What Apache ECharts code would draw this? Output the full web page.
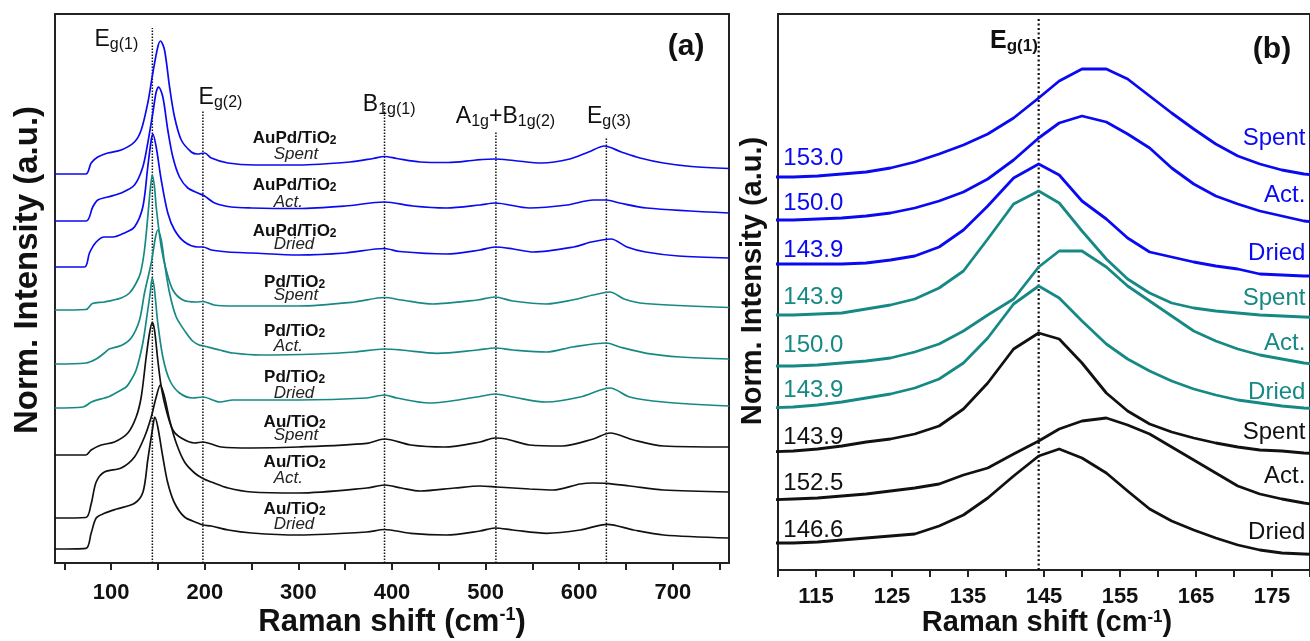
<!DOCTYPE html>
<html>
<head>
<meta charset="utf-8">
<title>Raman spectra of Au, Pd and AuPd on TiO2</title>
<script src="https://cdn.jsdelivr.net/npm/echarts@6.0.0/dist/echarts.min.js"></script>
<style>
  html, body { margin: 0; padding: 0; background: #ffffff; }
  #chart { width: 1310px; height: 641px; }
</style>
</head>
<body>
<div id="chart"></div>
<script>
// ---------------- Data ----------------
// Panel (a): full spectra, [Raman shift (cm-1), normalised intensity + stacking offset]
const auPdSpentA = [[40,38.9],[73,38.9],[78.6,40.0],[85.7,40.6],[96.4,41.0],[110.7,41.3],[124.9,42.1],[132.1,43.3],[139.1,46.0],[144.5,49.0],[149.8,51.6],[152.7,52.2],[157,51.3],[162.4,47.6],[167.7,44.6],[174.9,42.3],[185.6,41.1],[192,40.9],[199.8,41.0],[207,40.5],[224.7,40.0],[253.3,39.8],[300,39.8],[355,40.1],[380,40.45],[392,40.65],[405,40.45],[430,40.1],[460,40.05],[490,40.3],[510,40.4],[530,40.25],[560,40.0],[590,40.4],[610,41.1],[627,41.7],[645,41.1],[665,40.5],[690,40.0],[720,39.65],[760,39.45]];
const auPdActA = [[40,34.2],[73.3,34.2],[80.3,35.6],[85.7,36.3],[96.4,36.6],[110.7,37.0],[124.9,37.8],[133.8,39.6],[139.1,42.0],[144.5,45.0],[148.1,47.1],[150.6,47.6],[155.2,46.6],[160.5,43.3],[165.9,40.6],[173,38.6],[181.9,37.5],[192.6,37.0],[199.8,36.7],[210.5,36.0],[228.3,35.6],[250,35.5],[300,35.45],[350,35.7],[392,36.1],[422,35.7],[458,35.5],[494,35.8],[510,36.0],[547,35.5],[587,35.8],[615,36.3],[629,36.3],[643,36.0],[672,35.5],[760,35.0]];
const auPdDriedA = [[40,29.6],[71.5,29.6],[76.8,31.0],[84,32.1],[92.8,32.6],[101.7,32.6],[114.2,33.0],[124.9,33.6],[133.8,35.6],[139.1,39.6],[142.8,42.3],[144.5,42.9],[148.1,41.6],[153.5,38.3],[160.5,35.0],[167.7,33.3],[178.4,32.1],[192.6,31.6],[198,31.6],[207,31.3],[224.7,31.1],[250,31.0],[300,30.8],[350,31.0],[392,31.45],[408,31.15],[458,30.9],[494,31.3],[510,31.6],[529.5,31.4],[551,31.1],[594,31.6],[613,32.1],[634,32.4],[651,31.6],[671,31.1],[706,30.7],[760,30.5]];
const pdSpentA = [[40,25.3],[73,25.35],[80,25.95],[92.8,26.1],[110.7,26.5],[119.6,27.0],[126.7,28.0],[131.3,29.0],[135.6,31.3],[139.1,34.6],[141.7,37.3],[143.9,38.8],[146.3,37.6],[148.1,35.6],[153.5,31.6],[158.8,29.3],[165.9,27.3],[176.6,26.3],[190.9,26.1],[198,26.15],[210,25.8],[230,25.7],[300,25.7],[360,26.1],[392,26.55],[410,26.3],[444,25.9],[491,26.3],[510,26.6],[529,26.2],[565,25.9],[593,26.3],[615,26.8],[633,27.1],[648,26.4],[670,25.95],[760,25.55]];
const pdActA = [[40,19.9],[73,20.0],[84,20.4],[92.8,21.0],[98,21.4],[110.7,21.75],[121.4,22.5],[130.3,24.3],[135.6,27.0],[142.8,30.0],[147.4,32.6],[149.8,33.3],[153.5,32.3],[157,30.0],[162.4,27.0],[169.5,24.6],[180.2,23.0],[187,22.2],[194,21.8],[199,21.7],[215.8,21.3],[230,21.0],[260,20.8],[320,20.9],[360,21.1],[392,21.4],[410,21.3],[448,20.97],[491,21.3],[510,21.5],[529,21.3],[565,21.1],[593,21.6],[629,22.0],[643,21.6],[672,20.97],[708,20.6],[760,20.4]];
const pdDriedA = [[40,15.5],[70,15.6],[79,16.1],[92.8,16.5],[98,16.65],[110.7,17.3],[116,17.6],[120,18.1],[126.7,19.3],[133.8,22.0],[139.1,25.3],[141.7,27.0],[143.9,28.5],[146.3,27.3],[149.8,24.0],[155.2,20.6],[162.4,18.3],[173,17.0],[187.3,16.5],[198,16.6],[216,16.1],[230,16.3],[300,16.3],[373,16.5],[392,16.8],[405,16.5],[440,16.0],[491,16.6],[510,16.9],[529,16.6],[565,16.1],[601,16.6],[633,17.5],[654,16.6],[690,16.1],[760,15.7]];
const auSpentA = [[40,10.8],[73,10.8],[78.6,11.3],[89.3,11.8],[103.5,12.1],[117.8,13.0],[126.7,14.6],[132.1,16.6],[137.4,20.6],[141,23.0],[143.9,24.05],[146.3,23.3],[149.8,20.3],[153.5,17.6],[158.8,15.3],[165.9,13.3],[174.9,12.5],[189.1,12.0],[198,12.1],[217.6,11.6],[250,11.5],[300,11.6],[373,11.97],[392,12.4],[420,11.8],[456,11.6],[494,12.1],[510,12.5],[522,12.4],[547,11.8],[582,11.7],[615,12.4],[633,13.0],[658,12.3],[690,11.7],[760,11.6]];
const auActA = [[40,4.5],[73,4.55],[78.6,5.9],[84,8.1],[92.8,9.1],[110.7,9.5],[124.9,10.6],[135.6,12.6],[142.8,14.6],[148.1,16.6],[152.5,17.8],[157,16.6],[162.4,14.3],[169.5,12.0],[178.4,10.1],[189.1,9.0],[198,8.45],[207,8.1],[225,7.5],[250,7.1],[300,7.0],[373,7.5],[392,7.8],[410,7.5],[430,7.2],[467,7.5],[494,7.7],[512,7.6],[547,7.4],[572,7.3],[601,7.9],[615,8.0],[629,7.97],[654,7.7],[690,7.3],[760,7.1]];
const auDriedA = [[40,1.4],[73,1.47],[78.6,2.97],[84,4.5],[92.8,4.97],[106,5.4],[125,5.97],[134,7.1],[139.1,10.3],[144.5,13.6],[146.6,14.6],[149.8,13.6],[155.2,10.6],[160.5,8.0],[167.7,6.0],[178.4,4.6],[192.6,4.0],[198,3.8],[207,3.7],[225,3.3],[250,3.0],[300,2.8],[373,3.1],[392,3.35],[420,2.97],[458,2.8],[494,3.2],[510,3.5],[529,3.3],[565,2.97],[601,3.3],[630,3.87],[658,3.3],[690,2.8],[760,2.5]];

// Anatase band positions (cm-1), their labels and how high each guide line reaches
const bandShifts = [144, 198, 392, 511, 629];
const bandLabels = ['{m|E}{s|g(1)}', '{m|E}{s|g(2)}', '{m|B}{s|1g(1)}', '{m|A}{s|1g}{m|+B}{s|1g(2)}', '{m|E}{s|g(3)}'];
const bandLineTops = [53.5, 45.3, 46.0, 43.1, 42.6];

// Sample naming
const catalysts = ['AuPd', 'AuPd', 'AuPd', 'Pd', 'Pd', 'Pd', 'Au', 'Au', 'Au'];
const treatments = ['Spent', 'Act.', 'Dried', 'Spent', 'Act.', 'Dried', 'Spent', 'Act.', 'Dried'];

// Panel (b): Eg(1) region, intensities sampled on a shared Raman shift grid
const shiftB = [108.8,112.0,115.2,118.4,121.6,124.8,128.0,131.2,134.4,137.6,141.0,144.3,147.0,150.0,153.2,156.0,158.9,161.8,164.7,167.6,170.5,173.4,176.3,179.2,182.1];
const auPdSpentB = [39.3,39.3,39.4,39.6,39.8,40.2,40.8,41.6,42.5,43.6,45.2,47.2,48.9,50.1,50.1,49.1,47.4,45.7,44.1,42.6,41.4,40.6,40.0,39.6,39.4];
const auPdActB   = [35.0,35.0,35.1,35.2,35.4,35.7,36.2,36.9,37.8,39.1,41.0,43.2,44.7,45.4,44.8,43.6,42.2,40.2,38.6,37.4,36.6,35.9,35.4,34.9,34.7];
const auPdDriedB = [30.6,30.6,30.6,30.6,30.7,31.0,31.4,32.3,34.0,36.4,39.2,40.6,39.5,36.9,35.1,33.2,31.8,31.3,30.8,30.4,30.1,29.6,29.5,29.4,29.4];
const pdSpentB   = [25.5,25.5,25.6,25.7,26.1,26.5,27.1,28.2,29.9,33.1,36.6,37.9,36.7,33.9,31.1,29.1,27.7,26.7,26.2,25.9,25.7,25.5,25.4,25.3,25.2];
const pdActB     = [20.4,20.4,20.5,20.7,20.9,21.2,21.8,22.6,23.9,25.5,27.1,30.3,31.9,31.9,30.3,28.4,26.9,25.4,23.9,22.9,22.1,21.5,21.1,20.7,20.5];
const pdDriedB   = [16.2,16.3,16.5,16.8,17.2,17.6,18.2,19.1,20.7,23.2,26.6,28.4,27.2,24.9,22.6,21.1,19.9,18.9,18.1,17.5,17.0,16.7,16.4,16.2,16.1];
const auSpentB   = [11.8,11.9,12.1,12.4,12.8,13.1,13.6,14.4,16.1,18.7,22.1,23.7,23.1,20.7,17.7,15.9,14.6,13.8,13.2,12.7,12.3,12.0,11.9,11.7,11.6];
const auActB     = [7.0,7.1,7.2,7.4,7.6,7.9,8.2,8.6,9.5,10.2,11.6,12.9,14.1,14.9,15.2,14.5,13.6,12.3,11.0,9.7,8.4,7.6,7.1,6.7,6.4];
const auDriedB   = [2.7,2.7,2.8,3.0,3.2,3.4,3.6,4.4,5.5,7.2,9.4,11.4,12.1,11.2,9.7,7.9,6.1,4.9,4.0,3.2,2.5,2.0,1.7,1.6,1.5];
const peakShiftLabels = ['153.0', '150.0', '143.9', '143.9', '150.0', '143.9', '143.9', '152.5', '146.6'];
const eg1Shift = 144.3;

// Axis ticks (cm-1)
const ticksA = [50, 100, 150, 200, 250, 300, 350, 400, 450, 500, 550, 600, 650, 700, 750];
const tickLabelsA = [100, 200, 300, 400, 500, 600, 700];
const ticksB = [110, 115, 120, 125, 130, 135, 140, 145, 150, 155, 160, 165, 170, 175, 180];
const tickLabelsB = [115, 125, 135, 145, 155, 165, 175];

// ---------------- Styling ----------------
const FONT = '"Liberation Sans", Arial, Helvetica, sans-serif';
const BLUE = '#0a0af2';
const TEAL = '#178985';
const BLACK = '#111111';
const groupColor = { AuPd: BLUE, Pd: TEAL, Au: BLACK };

const spectraA = [auPdSpentA, auPdActA, auPdDriedA, pdSpentA, pdActA, pdDriedA, auSpentA, auActA, auDriedA];
const spectraB = [auPdSpentB, auPdActB, auPdDriedB, pdSpentB, pdActB, pdDriedB, auSpentB, auActB, auDriedB];

const chart = echarts.init(document.getElementById('chart'), null, { renderer: 'canvas' });

function xAxisCfg(grid, min, max, ticks, labels, margin) {
  return {
    gridIndex: grid, type: 'value', min: min, max: max,
    axisLine: { show: false },
    axisTick: { show: true, customValues: ticks, length: 7, inside: false,
                lineStyle: { color: '#222', width: 2 } },
    axisLabel: { show: true, customValues: labels, margin: margin, fontSize: 22,
                 fontWeight: 'bold', color: '#111', fontFamily: FONT },
    splitLine: { show: false }
  };
}
function yAxisCfg(grid, max) {
  return {
    gridIndex: grid, type: 'value', min: 0, max: max,
    axisLine: { show: false }, axisTick: { show: false },
    axisLabel: { show: false }, splitLine: { show: false }
  };
}

const series = [];
// Panel (a) spectra
spectraA.forEach((d, i) => {
  series.push({
    name: catalysts[i] + '/TiO2 ' + treatments[i],
    type: 'line', xAxisIndex: 0, yAxisIndex: 0, data: d,
    showSymbol: false, smooth: 0.3, silent: true,
    lineStyle: { color: groupColor[catalysts[i]], width: 1.7 },
    z: 3
  });
});
// Panel (a) band guide lines
bandShifts.forEach((s, i) => {
  series.push({
    type: 'line', xAxisIndex: 0, yAxisIndex: 0, silent: true,
    data: [[s, 0], [s, bandLineTops[i]]], showSymbol: false,
    lineStyle: { color: '#111', width: 1.5, type: [1.5, 1.5] }, z: 2
  });
});
// Panel (b) spectra
spectraB.forEach((d, i) => {
  series.push({
    name: catalysts[i] + '/TiO2 ' + treatments[i] + ' (Eg(1))',
    type: 'line', xAxisIndex: 1, yAxisIndex: 1, silent: true,
    data: shiftB.map((x, k) => [x, d[k]]),
    showSymbol: false, smooth: false,
    lineStyle: { color: groupColor[catalysts[i]], width: 2.8, join: 'round' },
    z: 3
  });
});
series.push({
  type: 'line', xAxisIndex: 1, yAxisIndex: 1, silent: true,
  data: [[eg1Shift, 0], [eg1Shift, 55.1]], showSymbol: false,
  lineStyle: { color: '#111', width: 2.2, type: [2, 2.5] }, z: 2
});

const option = {
  animation: false,
  backgroundColor: '#ffffff',
  grid: [
    { left: 55, top: 14, width: 674, height: 549, show: true, borderColor: '#222', borderWidth: 2, backgroundColor: 'rgba(0,0,0,0)' },
    { left: 778, top: 14, width: 539, height: 556, show: true, borderColor: '#222', borderWidth: 2, backgroundColor: 'rgba(0,0,0,0)' }
  ],
  xAxis: [
    xAxisCfg(0, 40, 760, ticksA, tickLabelsA, 19),
    xAxisCfg(1, 110, 180, ticksB, tickLabelsB, 16)
  ],
  yAxis: [yAxisCfg(0, 54.9), yAxisCfg(1, 55.6)],
  series: series
};
chart.setOption(option);

// ---------------- Annotations ----------------
const toPx = (g, x, y) => chart.convertToPixel({ xAxisIndex: g, yAxisIndex: g }, [x, y]);
const graphics = [];

function richText(g, x, yCenter, text, rich, align, mainSize) {
  const p = toPx(g, x, yCenter);
  graphics.push({ type: 'text', silent: true, x: p[0], y: p[1] - mainSize / 2,
    style: { text: text, rich: rich, align: align, verticalAlign: 'top', fontFamily: FONT } });
}
function plainText(g, x, yCenter, text, align, font, color) {
  const p = toPx(g, x, yCenter);
  graphics.push({ type: 'text', silent: true, x: p[0], y: p[1],
    style: { text: text, align: align, verticalAlign: 'middle', font: font, fill: color } });
}

// Band labels, panel (a)
const bandRich = {
  m: { fontSize: 23, lineHeight: 23, verticalAlign: 'top', fill: '#111', fontFamily: FONT },
  s: { fontSize: 16, lineHeight: 33, fill: '#111', fontFamily: FONT }
};
const bandLabelAnchors = [[82.1, 52.3], [193.4, 46.5], [368.8, 45.8], [468.2, 44.6], [608.3, 44.6]];
bandLabels.forEach((t, i) => richText(0, bandLabelAnchors[i][0], bandLabelAnchors[i][1], t, bandRich, 'left', 23));
plainText(0, 714.2, 51.6, '(a)', 'center', 'bold 30px ' + FONT, '#111');

// Sample labels, panel (a)
const formulaRich = {
  f: { fontSize: 17, fontWeight: 'bold', lineHeight: 17, verticalAlign: 'top', fill: '#111', fontFamily: FONT },
  n: { fontSize: 12, fontWeight: 'bold', lineHeight: 22, fill: '#111', fontFamily: FONT }
};
const formulaRowsA = [42.5, 37.8, 33.2, 28.1, 23.2, 18.6, 14.1, 10.1, 5.4];
const treatmentRowsA = [40.9, 36.1, 31.9, 26.8, 21.7, 17.0, 12.8, 8.5, 3.9];
catalysts.forEach((c, i) => {
  richText(0, 296, formulaRowsA[i], '{f|' + c + '/TiO}{n|2}', formulaRich, 'center', 17);
  plainText(0, 273.6, treatmentRowsA[i], treatments[i], 'left', 'italic 17px ' + FONT, '#222');
});

// Panel (b) labels
const egRichB = {
  m: { fontSize: 25, fontWeight: 'bold', lineHeight: 25, verticalAlign: 'top', fill: '#111', fontFamily: FONT },
  s: { fontSize: 17, fontWeight: 'bold', lineHeight: 35, fill: '#111', fontFamily: FONT }
};
richText(1, 137.9, 52.9, '{m|E}{s|g(1)}', egRichB, 'left', 25);
plainText(1, 175.0, 52.0, '(b)', 'center', 'bold 30px ' + FONT, '#111');
const peakRowsB = [41.2, 36.7, 32.0, 27.3, 22.5, 18.0, 13.3, 8.7, 4.0];
const treatmentRowsB = [43.2, 37.5, 31.7, 27.2, 22.7, 17.8, 13.8, 9.4, 3.8];
peakShiftLabels.forEach((t, i) => {
  const col = groupColor[catalysts[i]];
  plainText(1, 110.7, peakRowsB[i], t, 'left', '24px ' + FONT, col);
  plainText(1, 179.4, treatmentRowsB[i], treatments[i], 'right', '24px ' + FONT, col);
});

// Axis titles
const titleRich = (size, sup) => ({
  t: { fontSize: size, fontWeight: 'bold', lineHeight: size, verticalAlign: 'bottom', fill: '#111', fontFamily: FONT },
  p: { fontSize: sup, fontWeight: 'bold', lineHeight: sup, verticalAlign: 'top', fill: '#111', fontFamily: FONT }
});
graphics.push({ type: 'text', silent: true, x: 392, y: 622,
  style: { text: '{t|Raman shift (cm}{p|-1}{t|)}', rich: titleRich(31, 18), align: 'center', verticalAlign: 'middle' } });
graphics.push({ type: 'text', silent: true, x: 1047, y: 623,
  style: { text: '{t|Raman shift (cm}{p|-1}{t|)}', rich: titleRich(29, 17), align: 'center', verticalAlign: 'middle' } });
graphics.push({ type: 'text', silent: true, x: 28, y: 270, rotation: Math.PI / 2,
  style: { text: 'Norm. Intensity (a.u.)', align: 'center', verticalAlign: 'middle', font: 'bold 33px ' + FONT, fill: '#111' } });
graphics.push({ type: 'text', silent: true, x: 753, y: 281, rotation: Math.PI / 2,
  style: { text: 'Norm. Intensity (a.u.)', align: 'center', verticalAlign: 'middle', font: 'bold 29px ' + FONT, fill: '#111' } });

chart.setOption({ graphic: graphics });
</script>
</body>
</html>
